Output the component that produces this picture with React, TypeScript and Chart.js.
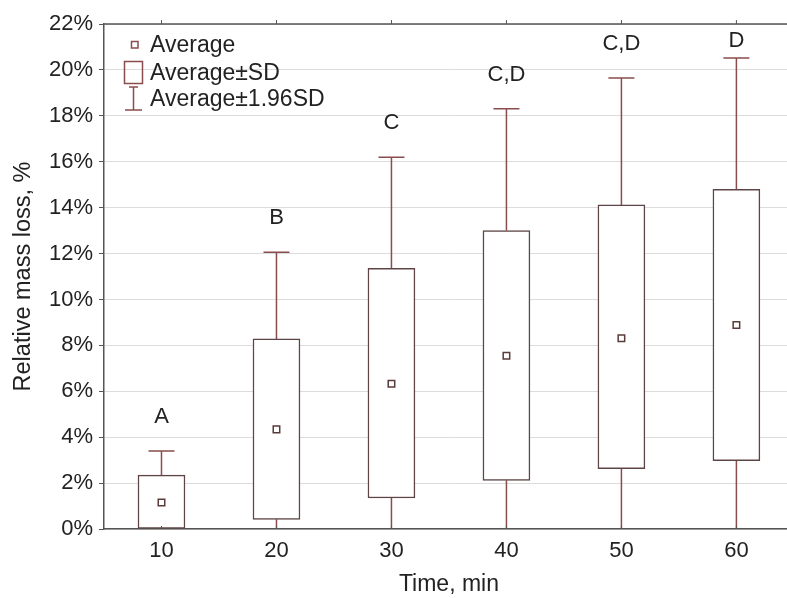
import React, { useEffect, useRef } from 'react';
import { Chart, registerables } from 'chart.js';

Chart.register(...registerables);

// ---- data ----
const times = [10, 20, 30, 40, 50, 60];
const means = [1.15, 4.34, 6.33, 7.55, 8.31, 8.89];
const sdLow = [0.0, 0.42, 1.35, 2.12, 2.63, 2.98];
const sdHigh = [2.35, 8.28, 11.36, 13.0, 14.12, 14.8];
const ciLow = [0, 0, 0, 0, 0, 0];
const ciHigh = [3.4, 12.06, 16.2, 18.31, 19.65, 20.52];
const groupLabels = ['A', 'B', 'C', 'C,D', 'C,D', 'D'];
const legendLabels = ['Average', 'Average±SD', 'Average±1.96SD'];
const xTitle = 'Time, min';
const yTitle = 'Relative mass loss, %';

const FONT = '"Liberation Sans", Arial, sans-serif';
const TEXT = '#222222';
const AXIS = '#555555';
const GRID = '#dcdcdc';
const BOX = '#5e4444';
const WHISKER = '#8a4c4c';
const MEAN = '#5a3a3a';

export default function App() {
  const ref = useRef<HTMLCanvasElement>(null);

  useEffect(() => {
    const canvas = ref.current;
    if (!canvas) return;

    const extras = {
      id: 'boxExtras',
      beforeDatasetsDraw(chart: any) {
        const { ctx, chartArea, scales } = chart;
        const x = scales.x;
        const y = scales.y;
        ctx.save();
        ctx.beginPath();
        ctx.rect(chartArea.left, chartArea.top, chartArea.right - chartArea.left, chartArea.bottom - chartArea.top);
        ctx.clip();
        ctx.strokeStyle = WHISKER;
        ctx.lineWidth = 1.5;
        times.forEach((t, i) => {
          const px = x.getPixelForValue(t);
          const yHi = y.getPixelForValue(ciHigh[i]);
          const yBoxHi = y.getPixelForValue(sdHigh[i]);
          const yLo = y.getPixelForValue(ciLow[i]);
          const yBoxLo = y.getPixelForValue(sdLow[i]);
          ctx.beginPath();
          ctx.moveTo(px, yBoxHi);
          ctx.lineTo(px, yHi);
          ctx.moveTo(px - 13, yHi);
          ctx.lineTo(px + 13, yHi);
          if (yBoxLo < yLo - 0.5) {
            ctx.moveTo(px, yBoxLo);
            ctx.lineTo(px, yLo);
          }
          ctx.stroke();
        });
        ctx.restore();
      },
      afterDraw(chart: any) {
        const { ctx, chartArea, scales } = chart;
        const x = scales.x;
        const y = scales.y;
        ctx.save();
        // top frame
        ctx.strokeStyle = AXIS;
        ctx.lineWidth = 1.5;
        ctx.beginPath();
        ctx.moveTo(chartArea.left, chartArea.top);
        ctx.lineTo(chartArea.right, chartArea.top);
        ctx.stroke();
        // small tick marks on top (outside) and bottom (inside)
        ctx.lineWidth = 1;
        ctx.beginPath();
        times.forEach((t) => {
          const px = x.getPixelForValue(t);
          ctx.moveTo(px, chartArea.top);
          ctx.lineTo(px, chartArea.top - 4);
          ctx.moveTo(px, chartArea.bottom);
          ctx.lineTo(px, chartArea.bottom - 3);
        });
        ctx.stroke();

        // group letters
        ctx.fillStyle = TEXT;
        ctx.font = `22px ${FONT}`;
        ctx.textAlign = 'center';
        ctx.textBaseline = 'middle';
        times.forEach((t, i) => {
          const px = x.getPixelForValue(t);
          const cap = y.getPixelForValue(ciHigh[i]);
          const ly = Math.max(cap - 34, chartArea.top + 17);
          ctx.fillText(groupLabels[i], px, ly);
        });

        // legend (no background, gridlines show through)
        const L = chartArea.left;
        const T = chartArea.top;
        ctx.strokeStyle = WHISKER;
        ctx.lineWidth = 1.5;
        // mean marker
        ctx.strokeRect(L + 27.5, T + 17.5, 6.5, 6.5);
        // SD box
        ctx.strokeRect(L + 20.5, T + 37.5, 18, 22);
        // 1.96 SD whisker
        ctx.beginPath();
        ctx.moveTo(L + 29.5, T + 63);
        ctx.lineTo(L + 29.5, T + 86);
        ctx.moveTo(L + 25, T + 63);
        ctx.lineTo(L + 34, T + 63);
        ctx.moveTo(L + 21, T + 86);
        ctx.lineTo(L + 38, T + 86);
        ctx.stroke();
        ctx.fillStyle = TEXT;
        ctx.font = `23px ${FONT}`;
        ctx.textAlign = 'left';
        ctx.textBaseline = 'alphabetic';
        ctx.fillText(legendLabels[0], L + 46, T + 28);
        ctx.fillText(legendLabels[1], L + 46, T + 56);
        ctx.fillText(legendLabels[2], L + 46, T + 82);
        ctx.restore();
      },
    };

    const chart = new Chart(canvas, {
      type: 'bar',
      data: {
        datasets: [
          {
            type: 'line',
            label: 'Average',
            data: times.map((t, i) => ({ x: t, y: means[i] })),
            showLine: false,
            pointStyle: 'rect',
            pointRadius: 4.6,
            pointBorderWidth: 1.5,
            pointBorderColor: MEAN,
            pointBackgroundColor: '#ffffff',
            order: 0,
          } as any,
          {
            type: 'bar',
            label: 'Average±SD',
            data: times.map((t, i) => ({ x: t, y: [sdLow[i], sdHigh[i]] })) as any,
            backgroundColor: '#ffffff',
            borderColor: BOX,
            borderWidth: 1.5,
            borderSkipped: false,
            barThickness: 47,
            order: 1,
          } as any,
        ],
      },
      options: {
        responsive: false,
        animation: false,
        devicePixelRatio: 1,
        layout: { padding: { top: 24, right: 4, left: 0, bottom: 0 } },
        plugins: { legend: { display: false }, tooltip: { enabled: false } },
        scales: {
          x: {
            type: 'linear',
            min: 5,
            max: 65,
            offset: false,
            afterBuildTicks: (s: any) => {
              s.ticks = times.map((v) => ({ value: v }));
            },
            afterFit: (s: any) => {
              s.height = 69;
            },
            grid: { display: false, drawTicks: false },
            border: { display: true, color: AXIS, width: 1.5 },
            ticks: { font: { family: FONT, size: 22 }, color: TEXT, padding: 9 },
            title: {
              display: true,
              text: xTitle,
              font: { family: FONT, size: 23 },
              color: TEXT,
              padding: { top: 0, bottom: 0 },
            },
          },
          y: {
            min: 0,
            max: 22,
            afterFit: (s: any) => {
              s.width = 104;
            },
            ticks: {
              stepSize: 2,
              callback: (v: any) => v + '%',
              font: { family: FONT, size: 22 },
              color: TEXT,
              padding: 6,
            },
            grid: { color: GRID, tickColor: AXIS, tickLength: 5, drawTicks: true },
            border: { color: AXIS, width: 1.5 },
            title: {
              display: true,
              text: yTitle,
              font: { family: FONT, size: 23.5 },
              color: TEXT,
              padding: { top: 9, bottom: 0 },
            },
          },
        },
      } as any,
      plugins: [extras],
    });

    return () => chart.destroy();
  }, []);

  return (
    <div
      style={{
        position: 'fixed',
        left: 0,
        top: 0,
        width: 787,
        height: 598,
        overflow: 'hidden',
        background: '#ffffff',
      }}
    >
      <canvas ref={ref} width={800} height={598} style={{ display: 'block' }} />
    </div>
  );
}
